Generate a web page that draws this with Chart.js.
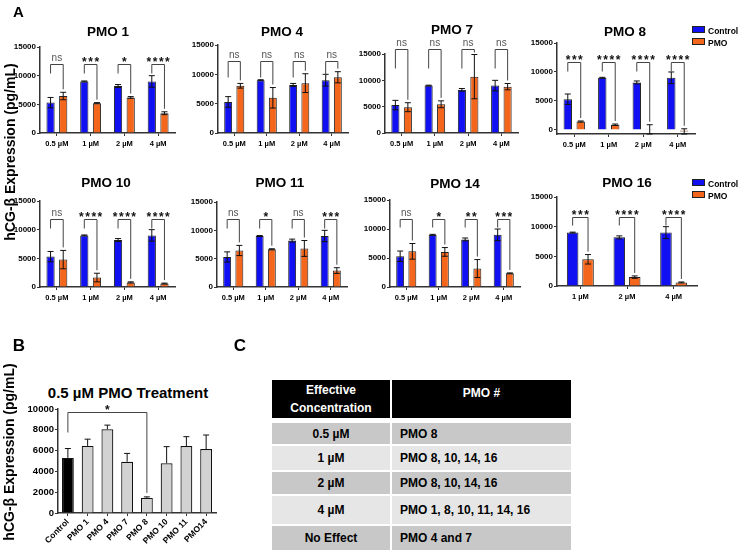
<!DOCTYPE html>
<html>
<head>
<meta charset="utf-8">
<script src="https://cdn.jsdelivr.net/npm/chart.js@4.4.1/dist/chart.umd.min.js"></script>
<style>
html,body{margin:0;padding:0;background:#fff;}
body{width:740px;height:553px;position:relative;overflow:hidden;font-family:"Liberation Sans",Arial,Helvetica,sans-serif;color:#000;}
canvas{position:absolute;}
.t{position:absolute;transform:translate(-50%,-50%);white-space:nowrap;font-weight:bold;line-height:1;}
.ytitle{position:absolute;transform:translate(-50%,-50%) rotate(-90deg);white-space:nowrap;font-weight:bold;font-size:14px;line-height:1;}
.leg{position:absolute;font-weight:bold;font-size:8.5px;line-height:9px;white-space:nowrap;}
.leg i{display:inline-block;width:11px;height:5px;border:1px solid #222;margin-right:3px;vertical-align:1px;}
#tbl{position:absolute;left:272px;top:380px;width:299px;height:170px;font-weight:bold;font-size:12px;}
.row{position:absolute;left:0;width:299px;}
.c1,.c2{position:absolute;top:0;bottom:0;display:flex;align-items:center;}
.c1{left:0;width:118px;justify-content:center;text-align:center;}
.c2{left:120px;right:0;padding-left:8px;}
</style>
</head>
<body>
<script>
// ---------------- DATA ----------------
const doses = ['0.5 µM', '1 µM', '2 µM', '4 µM'];
const doses16 = ['1 µM', '2 µM', '4 µM'];
const yTicksA = [0, 5000, 10000, 15000];

const controlMean = [5300, 9000, 8200, 9000];
const controlErr  = [900, 80, 250, 1000];

const pmo1Mean = [6450, 5200, 6200, 3450];
const pmo1Err  = [650, 100, 150, 250];
const pmo1Sig  = ['ns', '***', '*', '****'];

const pmo4Mean = [8050, 6000, 8500, 9500];
const pmo4Err  = [400, 1750, 1600, 950];
const pmo4Sig  = ['ns', 'ns', 'ns', 'ns'];

const pmo7Mean = [4900, 5450, 10700, 8800];
const pmo7Err  = [850, 650, 4200, 600];
const pmo7Sig  = ['ns', 'ns', 'ns', 'ns'];

const pmo8Mean = [1450, 900, 100, -250];
const pmo8Err  = [100, 120, 800, 450];
const pmo8Sig  = ['***', '****', '****', '****'];

const pmo10Mean = [4780, 1650, 800, 600];
const pmo10Err  = [1600, 750, 100, 80];
const pmo10Sig  = ['ns', '****', '****', '****'];

const pmo11Mean = [6440, 6650, 6800, 2900];
const pmo11Err  = [900, 100, 1400, 500];
const pmo11Sig  = ['ns', '*', 'ns', '***'];

const pmo14Mean = [6150, 6050, 3180, 2350];
const pmo14Err  = [1350, 750, 1550, 80];
const pmo14Sig  = ['ns', '*', '**', '***'];

const control16Mean = [9000, 8200, 9000];
const control16Err  = [80, 250, 1000];
const pmo16Mean = [4500, 1500, 600];
const pmo16Err  = [800, 200, 80];
const pmo16Sig  = ['***', '****', '****'];

const treatments = ['Control', 'PMO 1', 'PMO 4', 'PMO 7', 'PMO 8', 'PMO 10', 'PMO 11', 'PMO14'];
const treatMean  = [5300, 6450, 8050, 4930, 1450, 4780, 6440, 6150];
const treatErr   = [900, 650, 400, 800, 100, 1600, 900, 1350];
const yTicksB    = [0, 2000, 4000, 6000, 8000, 10000];

const tableHeader = ['Effective<br>Concentration', 'PMO #'];
const concentrations = ['0.5 µM', '1 µM', '2 µM', '4 µM', 'No Effect'];
const effectivePMOs  = ['PMO 8', 'PMO 8, 10, 14, 16', 'PMO 8, 10, 14, 16', 'PMO 1, 8, 10, 11, 14, 16', 'PMO 4 and 7'];

// ---------------- STYLE / LAYOUT ----------------
const FF = '"Liberation Sans", Arial, Helvetica, sans-serif';
const BLUE = '#1010f2', ORANGE = '#f4661b', EDGE = '#222';

function addDiv(cls, html, x, y, css) {
  const d = document.createElement('div');
  d.className = cls; d.innerHTML = html;
  d.style.left = x + 'px'; d.style.top = y + 'px';
  if (css) Object.assign(d.style, css);
  document.body.appendChild(d);
  return d;
}

const errPlugin = {
  id: 'errbars',
  afterDatasetsDraw(chart) {
    const ctx = chart.ctx, ys = chart.scales.y;
    chart.data.datasets.forEach((ds, di) => {
      if (!ds.errors) return;
      const meta = chart.getDatasetMeta(di);
      const cap = ds.cap || 3;
      meta.data.forEach((bar, i) => {
        const m = ds.data[i], e = ds.errors[i];
        const x = bar.x;
        const yt = ys.getPixelForValue(m + e);
        const yb = ds.oneSided ? ys.getPixelForValue(m) : ys.getPixelForValue(m - e);
        ctx.save();
        ctx.strokeStyle = '#111'; ctx.lineWidth = 1;
        ctx.beginPath();
        ctx.moveTo(x, yt); ctx.lineTo(x, yb);
        ctx.moveTo(x - cap, yt); ctx.lineTo(x + cap, yt);
        if (!ds.oneSided) { ctx.moveTo(x - cap, yb); ctx.lineTo(x + cap, yb); }
        ctx.stroke();
        ctx.restore();
      });
    });
  }
};

function sigPluginFor(o) {
  return {
    id: 'sig',
    afterDatasetsDraw(chart) {
      const ctx = chart.ctx, ys = chart.scales.y;
      o.items.forEach(it => {
        const a = chart.getDatasetMeta(it.a[0]).data[it.a[1]];
        const b = chart.getDatasetMeta(it.b[0]).data[it.b[1]];
        const dsb = chart.data.datasets[it.b[0]];
        const yl = Math.round(ys.getPixelForValue(o.level)) + 0.5;
        const topB = ys.getPixelForValue(dsb.data[it.b[1]] + (dsb.errors ? dsb.errors[it.b[1]] : 0));
        const lb = yl + o.leg;
        const rb = Math.max(yl + 3, topB - o.gap);
        ctx.save();
        ctx.strokeStyle = '#444'; ctx.lineWidth = 1;
        ctx.beginPath();
        ctx.moveTo(a.x, lb); ctx.lineTo(a.x, yl); ctx.lineTo(b.x, yl); ctx.lineTo(b.x, rb);
        ctx.stroke();
        const cx = (a.x + b.x) / 2;
        ctx.textAlign = 'center'; ctx.textBaseline = 'alphabetic';
        if (it.label === 'ns') {
          ctx.fillStyle = '#555'; ctx.font = '10px ' + FF;
          ctx.fillText('ns', cx, yl - 4);
        } else {
          ctx.fillStyle = '#111'; ctx.font = 'bold ' + (o.starSize || 12) + 'px ' + FF;
          const n = it.label.length, step = o.starStep || 6.2;
          for (let k = 0; k < n; k++) ctx.fillText('*', cx + (k - (n - 1) / 2) * step, yl + 1);
        }
        ctx.restore();
      });
    }
  };
}

function makeBar(box, labels, datasets, yTicks, sigOpts, ex) {
  const yw = ex.yw || 36, padL = 2, padT = ex.padT || 26, padR = 6, xh = ex.xh || 22;
  const left = box.l - yw - padL, top = box.t - padT;
  const w = Math.round(box.r - left + padR), h = Math.round(box.b - top + xh);
  const cv = document.createElement('canvas');
  cv.width = w; cv.height = h;
  cv.style.left = left + 'px'; cv.style.top = top + 'px';
  cv.style.width = w + 'px'; cv.style.height = h + 'px';
  document.body.appendChild(cv);
  return new Chart(cv.getContext('2d'), {
    type: 'bar',
    data: { labels: labels, datasets: datasets },
    options: {
      responsive: false, animation: false, devicePixelRatio: 1,
      layout: { padding: { left: padL, top: padT, right: padR, bottom: 0 } },
      plugins: { legend: { display: false }, tooltip: { enabled: false }, title: { display: false } },
      scales: {
        x: {
          offset: true,
          grid: { display: true, drawOnChartArea: false, drawTicks: true, tickLength: 3, offset: false, color: '#333', lineWidth: 1 },
          border: { display: true, color: '#333', width: 1.5 },
          ticks: { color: '#000', font: { family: FF, size: ex.xFont || 7.5, weight: 'bold' }, padding: ex.xPad || 3,
                   autoSkip: false, maxRotation: ex.rot || 0, minRotation: ex.rot || 0 },
          afterFit(s) { s.height = xh; }
        },
        y: {
          min: box.min, max: box.max,
          grid: { display: true, drawOnChartArea: false, drawTicks: true, tickLength: 3, color: '#333', lineWidth: 1 },
          border: { display: true, color: '#333', width: 1.5 },
          ticks: { color: '#000', font: { family: FF, size: ex.yFont || 8, weight: 'bold' }, padding: 1,
                   callback: v => String(v) },
          afterBuildTicks(s) { s.ticks = yTicks.map(v => ({ value: v })); },
          afterFit(s) { s.width = yw; }
        }
      }
    },
    plugins: [errPlugin, sigPluginFor(sigOpts)]
  });
}

Chart.defaults.font.family = FF;

// ---------------- PANEL A ----------------
const panelsA = [
  { title: 'PMO 1',  tx: 108, ty: 31.5, box: { l: 40,  r: 175, t: 47,  b: 133, min: 0,    max: 15000 }, level: 12000, leg: 9,
    labels: doses, ctl: controlMean, ctlErr: controlErr, mean: pmo1Mean, err: pmo1Err, sig: pmo1Sig },
  { title: 'PMO 4',  tx: 282, ty: 31.5, box: { l: 218, r: 348, t: 45,  b: 133, min: 0,    max: 15000 }, level: 12300, leg: 16,
    labels: doses, ctl: controlMean, ctlErr: controlErr, mean: pmo4Mean, err: pmo4Err, sig: pmo4Sig },
  { title: 'PMO 7',  tx: 452, ty: 30,   box: { l: 385, r: 518, t: 54,  b: 133, min: 0,    max: 15000 }, level: 16000, leg: 19,
    labels: doses, ctl: controlMean, ctlErr: controlErr, mean: pmo7Mean, err: pmo7Err, sig: pmo7Sig },
  { title: 'PMO 8',  tx: 625, ty: 31.5, box: { l: 557, r: 695, t: 43,  b: 134, min: -700, max: 15000 }, level: 11700, leg: 9,
    labels: doses, ctl: controlMean, ctlErr: controlErr, mean: pmo8Mean, err: pmo8Err, sig: pmo8Sig },
  { title: 'PMO 10', tx: 106, ty: 183,  box: { l: 40,  r: 175, t: 201, b: 287, min: 0,    max: 15000 }, level: 11900, leg: 9,
    labels: doses, ctl: controlMean, ctlErr: controlErr, mean: pmo10Mean, err: pmo10Err, sig: pmo10Sig },
  { title: 'PMO 11', tx: 280, ty: 183,  box: { l: 217, r: 347, t: 202, b: 287, min: 0,    max: 15000 }, level: 12000, leg: 9,
    labels: doses, ctl: controlMean, ctlErr: controlErr, mean: pmo11Mean, err: pmo11Err, sig: pmo11Sig },
  { title: 'PMO 14', tx: 455, ty: 184,  box: { l: 390, r: 520, t: 200, b: 287, min: 0,    max: 15000 }, level: 11700, leg: 8,
    labels: doses, ctl: controlMean, ctlErr: controlErr, mean: pmo14Mean, err: pmo14Err, sig: pmo14Sig },
  { title: 'PMO 16', tx: 627, ty: 183,  box: { l: 557, r: 697, t: 197, b: 286, min: 0,    max: 15000 }, level: 11600, leg: 8,
    labels: doses16, ctl: control16Mean, ctlErr: control16Err, mean: pmo16Mean, err: pmo16Err, sig: pmo16Sig, cat: 0.66, bar: 0.75 }
];

panelsA.forEach(p => {
  const cat = p.cat || 0.75, bp = p.bar || 0.65;
  const ds = [
    { label: 'Control', data: p.ctl, errors: p.ctlErr, backgroundColor: BLUE, borderColor: EDGE, borderWidth: 1,
      categoryPercentage: cat, barPercentage: bp, cap: 3 },
    { label: 'PMO', data: p.mean, errors: p.err, backgroundColor: ORANGE, borderColor: EDGE, borderWidth: 1,
      categoryPercentage: cat, barPercentage: bp, cap: 3 }
  ];
  const items = p.sig.map((s, i) => ({ a: [0, i], b: [1, i], label: s }));
  makeBar(p.box, p.labels, ds, yTicksA, { items: items, level: p.level, leg: p.leg, gap: 3 }, {});
  addDiv('t', p.title, p.tx, p.ty, { fontSize: '13.5px' });
});

// legends
[[27, 'Control', BLUE], [39, 'PMO', ORANGE], [180, 'Control', BLUE], [192, 'PMO', ORANGE]].forEach(l => {
  addDiv('leg', '<i style="background:' + l[2] + '"></i>' + l[1], 692, l[0] - 1);
});

addDiv('t', 'A', 18.5, 10.5, { fontSize: '15px' });
addDiv('ytitle', 'hCG-β Expression (pg/mL)', 10, 152);

// ---------------- PANEL B ----------------
addDiv('t', 'B', 19, 345, { fontSize: '17px' });
addDiv('t', '0.5 µM PMO Treatment', 128, 392, { fontSize: '15px' });
addDiv('ytitle', 'hCG-β Expression (pg/mL)', 9, 452);
const bColors = treatments.map((t, i) => i === 0 ? '#000' : '#d2d2d2');
makeBar({ l: 58, r: 216, t: 409, b: 513, min: 0, max: 10000 }, treatments,
  [{ label: '0.5 µM', data: treatMean, errors: treatErr, oneSided: true, backgroundColor: bColors, borderColor: '#111',
     borderWidth: 1.2, categoryPercentage: 1.0, barPercentage: 0.6, cap: 3 }],
  yTicksB,
  { items: [{ a: [0, 0], b: [0, 4], label: '*' }], level: 9700, leg: 20, gap: 4 },
  { xh: 40, yFont: 9.5, xFont: 8.5, rot: 45, xPad: 1 });

// ---------------- PANEL C ----------------
addDiv('t', 'C', 240, 345, { fontSize: '17px' });
const tbl = document.createElement('div'); tbl.id = 'tbl'; document.body.appendChild(tbl);
const rowTops = [43, 66, 92, 116, 146];
const rowHeights = [21, 24, 22, 28, 24];
const rowBg = ['#c8c8c8', '#e6e6e6', '#c8c8c8', '#e6e6e6', '#c8c8c8'];
(function () {
  const r = document.createElement('div'); r.className = 'row';
  r.style.top = '0px'; r.style.height = '38px';
  r.innerHTML = '<div class="c1" style="background:#000;color:#fff;line-height:18px;">' + tableHeader[0] + '</div>' +
                '<div class="c2" style="background:#000;color:#fff;justify-content:center;padding-left:0;align-items:flex-start;padding-top:6px;">' + tableHeader[1] + '</div>';
  tbl.appendChild(r);
})();
concentrations.forEach((c, i) => {
  const r = document.createElement('div'); r.className = 'row';
  r.style.top = rowTops[i] + 'px'; r.style.height = rowHeights[i] + 'px';
  r.innerHTML = '<div class="c1" style="background:' + rowBg[i] + '">' + c + '</div>' +
                '<div class="c2" style="background:' + rowBg[i] + '">' + effectivePMOs[i] + '</div>';
  tbl.appendChild(r);
});
</script>
</body>
</html>
